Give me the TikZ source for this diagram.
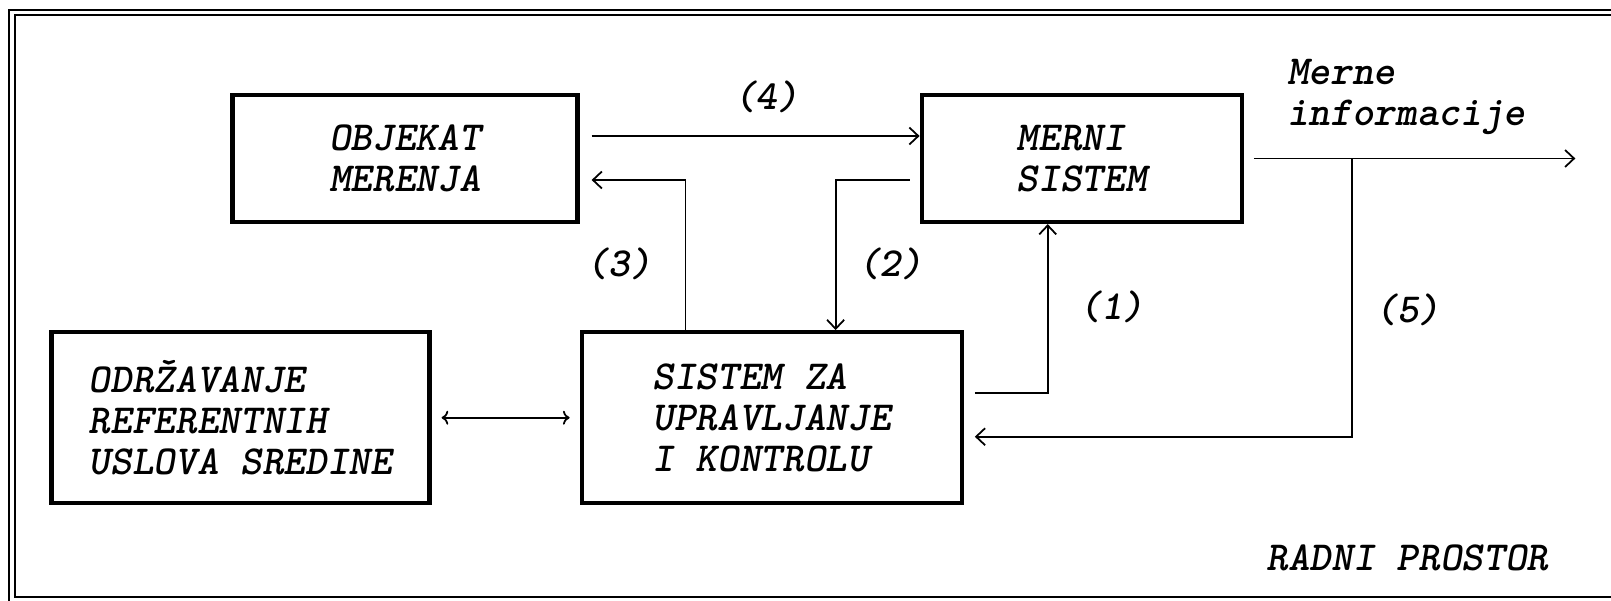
\documentclass[tikz,border=0pt]{standalone}
\usepackage{tikz}
\usetikzlibrary{positioning,arrows.meta}
\newcommand{\boxfont}{\fontsize{23.5}{23.5}\selectfont\ttfamily\bfseries\itshape}

\begin{document}
\begin{tikzpicture}[
		box/.style={draw, line width=2.4pt, minimum height=2.54cm, inner sep=0pt, align=left, font=\boxfont},
		lbl/.style={inner sep=1pt, font=\boxfont},
		arrow/.style={-{Straight Barb[length=1.8mm, width=3.4mm]}, line width=1pt},
		workspace/.style={double, line width=1.3pt, double distance=1.8pt}
	]
		\useasboundingbox (0,0) rectangle (32.22,-12.02);
		\draw[workspace] (32.3,-0.25) -- (0.24,-0.25) -- (0.24,-12.0) -- (32.3,-12.0);

		\node[box, minimum width=6.9cm] (obj) at (8.1,-3.17) {OBJEKAT\\MERENJA};
		\node[box, minimum width=6.4cm, right=6.8cm of obj] (merni) {MERNI\\SISTEM};
		\node[box, minimum width=7.6cm, minimum height=3.42cm, below=2.12cm of obj.south east, anchor=north west] (sistem) {SISTEM ZA\\UPRAVLJANJE\\I KONTROLU};
		\node[box, minimum width=7.56cm, minimum height=3.42cm, left=2.96cm of sistem] (odr) {ODRŽAVANJE\\REFERENTNIH\\USLOVA SREDINE};
		\coordinate[right=6.63cm of merni.east] (out);
		\node[lbl] (radni) at (28.15,-11.16) {RADNI PROSTOR};

		\draw[arrow, shorten <=0.24cm] ([yshift=0.45cm]obj.east) -- node[lbl, above=0.42cm, pos=0.55]{(4)} ([yshift=0.45cm]merni.west);
		\draw[arrow, shorten >=0.24cm] ([xshift=2.12cm]sistem.north west) |- node[lbl, left=0.62cm, pos=0.22]{(3)} ([yshift=-0.43cm]obj.east);
		\draw[arrow, shorten <=0.2cm] ([yshift=-0.43cm]merni.west) -| node[lbl, right=0.4cm, pos=0.78]{(2)} ([xshift=5.12cm]sistem.north west);
		\draw[arrow, shorten <=0.22cm] ([yshift=0.49cm]sistem.east) -| node[lbl, right=0.58cm, pos=0.755]{(1)} ([xshift=-0.68cm]merni.south);
		\draw[arrow, shorten <=0.2cm] (merni.east) -- node[lbl, above=0.42cm, pos=0.49, align=left]{Merne\\informacije} coordinate[pos=0.327] (tap) (out);
		\draw[arrow, shorten >=0.22cm] (tap) |- node[lbl, right=0.41cm, pos=0.272]{(5)} ([yshift=-0.38cm]sistem.east);
		\draw[arrow, <->, shorten <=0.2cm, shorten >=0.2cm] (odr) -- (sistem);
	\end{tikzpicture}
\end{document}
